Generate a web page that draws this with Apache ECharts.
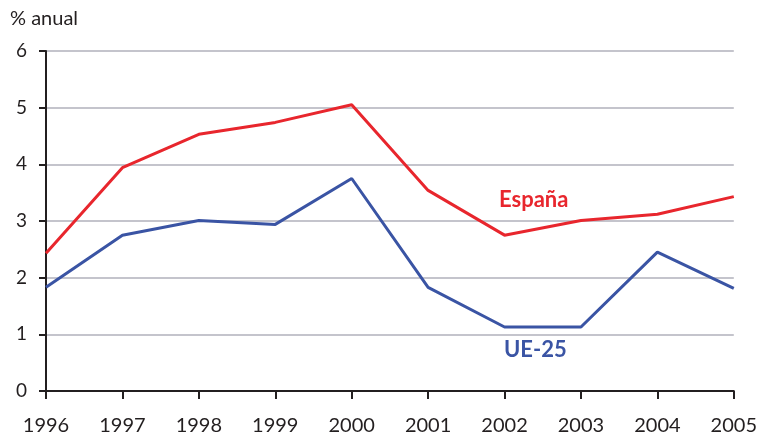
<!DOCTYPE html>
<html>
<head>
<meta charset="utf-8">
<script src="https://cdn.jsdelivr.net/npm/echarts@6/dist/echarts.min.js"></script>
<style>
  html, body { margin: 0; padding: 0; background: #fff; }
  #chart { width: 760px; height: 439px; }
</style>
</head>
<body>
<div id="chart"></div>
<script>
// datos
const years = ["1996", "1997", "1998", "1999", "2000", "2001", "2002", "2003", "2004", "2005"];
const espana = [2.43, 3.94, 4.53, 4.74, 5.05, 3.54, 2.75, 3.01, 3.12, 3.43];
const ue25 = [1.83, 2.75, 3.01, 2.94, 3.75, 1.83, 1.13, 1.13, 2.45, 1.81];
const yTicks = [0, 1, 2, 3, 4, 5, 6];

const RED = "#e8262d";
const BLUE = "#3a54a4";
const INK = "#231f20";
const FONT = "Lato";

const chart = echarts.init(document.getElementById("chart"));

const option = {
  animation: false,
  textStyle: { fontFamily: FONT },
  grid: { left: 46, right: 22, top: 51, bottom: 48 },
  xAxis: {
    type: "category",
    data: years,
    boundaryGap: false,
    axisLine: { lineStyle: { color: INK, width: 2 } },
    axisTick: { show: true, length: 8, lineStyle: { color: INK, width: 2 } },
    axisLabel: { color: INK, fontSize: 20, margin: 25, fontFamily: FONT },
    splitLine: { show: false },
  },
  yAxis: {
    type: "value",
    min: yTicks[0],
    max: yTicks[yTicks.length - 1],
    interval: 1,
    axisLine: { show: true, lineStyle: { color: INK, width: 2 } },
    axisTick: { show: true, length: 7, lineStyle: { color: INK, width: 2 } },
    axisLabel: { color: INK, fontSize: 19, margin: 19, fontFamily: FONT },
    splitLine: { show: true, lineStyle: { color: "#c4c4cc", width: 2 } },
  },
  series: [
    {
      name: "España",
      type: "line",
      data: espana,
      symbol: "none",
      lineStyle: { color: RED, width: 3 },
      z: 3,
    },
    {
      name: "UE-25",
      type: "line",
      data: ue25,
      symbol: "none",
      lineStyle: { color: BLUE, width: 3 },
      z: 3,
    },
  ],
  graphic: [
    {
      type: "text",
      left: 10,
      top: 9,
      style: { text: "% anual", fill: INK, font: "20px " + FONT },
    },
    {
      type: "text",
      left: 499,
      top: 189,
      style: { text: "España", fill: RED, font: "bold 22px " + FONT },
    },
    {
      type: "text",
      left: 504,
      top: 339,
      style: { text: "UE-25", fill: BLUE, font: "bold 22px " + FONT },
    },
  ],
};

chart.setOption(option);
</script>
</body>
</html>
